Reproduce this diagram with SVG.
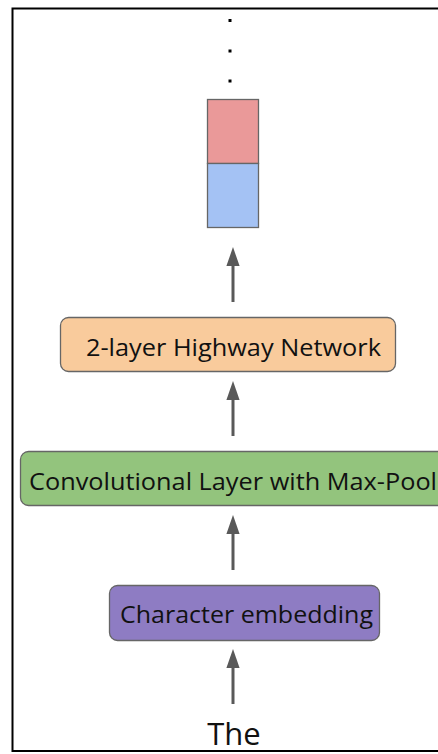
<svg xmlns="http://www.w3.org/2000/svg" width="438" height="754" viewBox="0 0 438 754">
  <style>
    .box { stroke: #666666; stroke-width: 1.3; }
    .lbl { font-family: "Open Sans", "DejaVu Sans", sans-serif; fill: #111111; }
    .edge { stroke: #595959; stroke-width: 3; fill: none; }
    .frame { stroke: #000000; stroke-width: 2; fill: none; }
  </style>
  <defs>
    <marker id="head" markerWidth="6.3" markerHeight="4.4" refX="0" refY="2.2" orient="auto" markerUnits="strokeWidth" viewBox="0 0 6.3 4.4">
      <path d="M0,0 L6.3,2.2 L0,4.4 Z" fill="#595959"/>
    </marker>
  </defs>

  <!-- outer frame: left, top and bottom edges -->
  <path class="frame" d="M438,8.5 H12.5 V751 H438"/>

  <!-- vertical ellipsis above the stacked vector -->
  <g id="ellipsis" fill="#000000">
    <rect x="228.5" y="19" width="3" height="3"/>
    <rect x="228.5" y="49.5" width="3" height="3"/>
    <rect x="228.5" y="79.5" width="3" height="3"/>
  </g>

  <!-- stacked output vector -->
  <g id="vector">
    <rect class="box" x="207.5" y="99.5" width="51" height="64" fill="#EA9999"/>
    <rect class="box" x="207.5" y="163.5" width="51" height="64" fill="#A4C2F4"/>
  </g>

  <g id="highway">
    <rect class="box" x="60.5" y="317.5" width="335" height="54" rx="8" fill="#F9CB9C"/>
    <text class="lbl" x="86" y="356" font-size="24" textLength="295" lengthAdjust="spacingAndGlyphs">2-layer Highway Network</text>
  </g>

  <g id="conv">
    <rect class="box" x="20.5" y="451.5" width="430" height="54" rx="8" fill="#93C47D"/>
    <text class="lbl" x="29" y="490" font-size="24" textLength="408" lengthAdjust="spacingAndGlyphs">Convolutional Layer with Max-Pool</text>
  </g>

  <g id="charemb">
    <rect class="box" x="109.5" y="585.5" width="270" height="55" rx="8" fill="#8E7CC3"/>
    <text class="lbl" x="120" y="623" font-size="24" textLength="253" lengthAdjust="spacingAndGlyphs">Character embedding</text>
  </g>

  <g id="input">
    <text class="lbl" x="234" y="745" font-size="31" text-anchor="middle">The</text>
  </g>

  <g id="connectors">
    <line class="edge" x1="233" y1="302" x2="233" y2="266" marker-end="url(#head)"/>
    <line class="edge" x1="233" y1="436" x2="233" y2="400" marker-end="url(#head)"/>
    <line class="edge" x1="233" y1="570" x2="233" y2="534" marker-end="url(#head)"/>
    <line class="edge" x1="233" y1="704" x2="233" y2="668" marker-end="url(#head)"/>
  </g>
</svg>
